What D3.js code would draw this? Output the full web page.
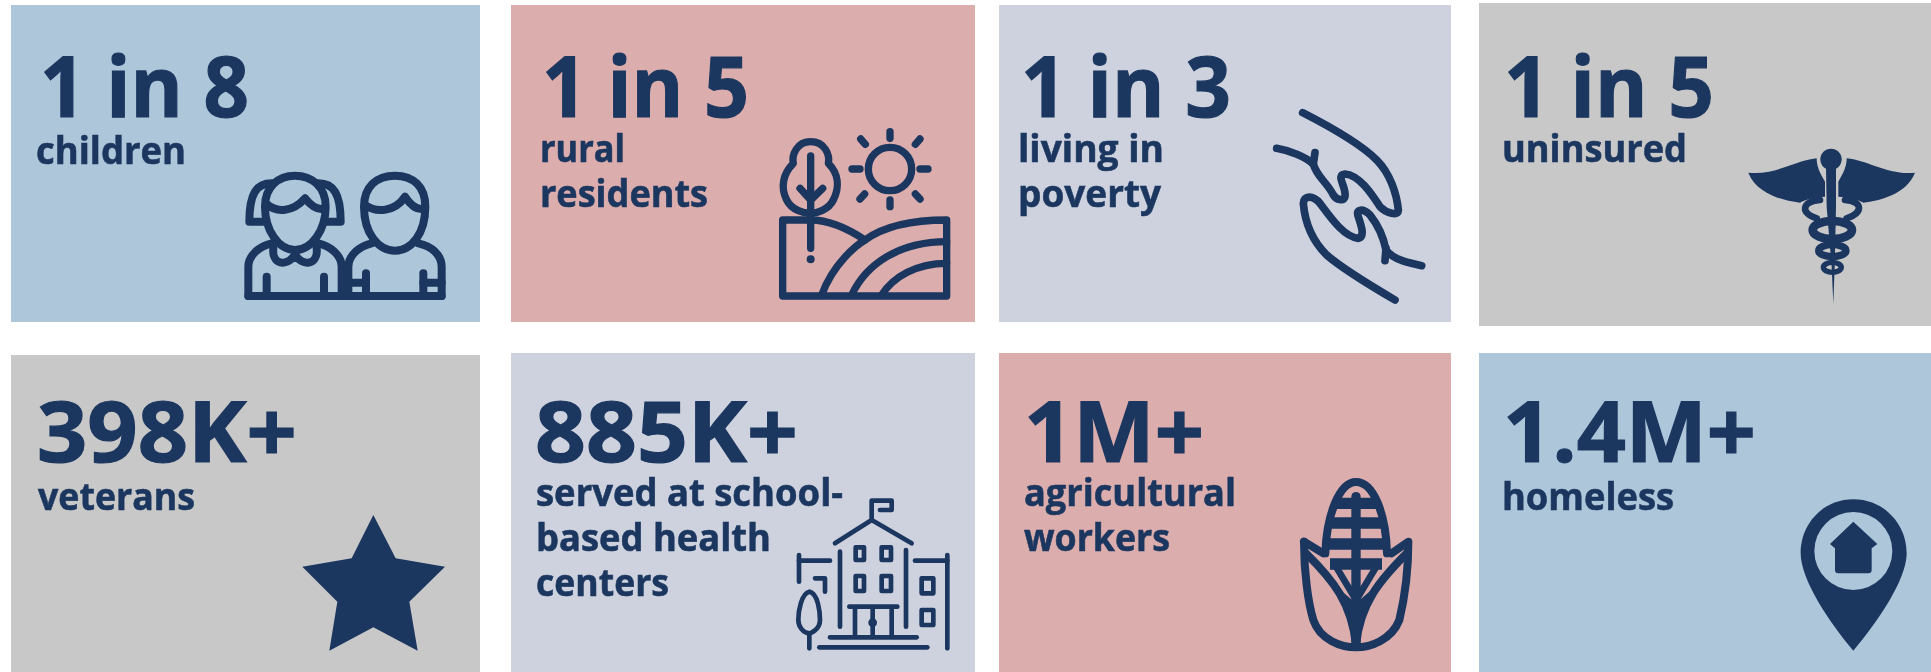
<!DOCTYPE html>
<html>
<head>
<meta charset="utf-8">
<style>
  html, body { margin: 0; padding: 0; background: #fff; overflow: hidden; }
  svg { display: block; filter: blur(0.5px); }
  text { font-family: "Open Sans", "Noto Sans", sans-serif; font-weight: 700; fill: #1b365f; stroke: #1b365f; }
  .line { fill: none; stroke: #1b365f; stroke-linecap: round; stroke-linejoin: round; }
  .solid { fill: #1b365f; stroke: none; fill-rule: evenodd; }
</style>
</head>
<body>
<svg id="chart"></svg>
<script src="https://cdn.jsdelivr.net/npm/d3@7"></script>
<script>
// card contents, left to right, top row first
var headlines = ["1 in 8", "1 in 5", "1 in 3", "1 in 5", "398K+", "885K+", "1M+", "1.4M+"];
var captions = [
  ["children"],
  ["rural", "residents"],
  ["living in", "poverty"],
  ["uninsured"],
  ["veterans"],
  ["served at school-", "based health", "centers"],
  ["agricultural", "workers"],
  ["homeless"]
];
var cardTones = ["blue", "pink", "slate", "grey", "grey", "slate", "pink", "blue"];
var iconNames = ["children", "rural", "hands", "caduceus", "star", "school", "corn", "pin"];

var width = 1931, height = 672;

// the four columns are not quite even in the source
var colX = d3.scaleOrdinal().domain([0, 1, 2, 3]).range([11, 511, 999, 1479]),
    colW = d3.scaleOrdinal().domain([0, 1, 2, 3]).range([469, 464, 452, 452]),
    tone = d3.scaleOrdinal()
      .domain(["blue", "pink", "slate", "grey"])
      .range(["#adc6da", "#dbadac", "#cdd2de", "#c8c8c8"]);

// card top / bottom, picked per card because the grey and last ones are offset
var cardTop = [5, 5, 5, 3, 355, 353, 353, 353],
    cardBottom = [322, 322, 322, 326, 672, 672, 672, 672];

// text placement: [x, baseline, width of the headline]
var headPos = [[40, 117, 209], [542, 117, 207], [1021, 117, 210], [1504, 117, 210],
               [37, 462, 260], [535, 462, 263], [1024, 462, 180], [1503, 462, 253]];
// caption lines: [x, baseline, width] per line
var capPos = [
  [[36, 164, 150]],
  [[540, 162, 85], [540, 207, 168]],
  [[1018, 162, 146], [1018, 207, 143]],
  [[1502, 162, 185]],
  [[38, 510, 157]],
  [[536, 506, 307], [536, 551, 235], [536, 596, 133]],
  [[1024, 506, 212], [1024, 551, 146]],
  [[1502, 510, 172]]
];

var iconOrigin = {
  children: [0, 0], rural: [500, 0], hands: [980, 0], caduceus: [1450, 0],
  star: [0, 340], school: [500, 340], corn: [980, 340], pin: [1450, 340]
};

var icons = {
  children: function(g) {
    stroke(g, 24, [
      // girl
      "M795,620C795,560 835,527 885,527C935,527 977,560 977,620C977,690 935,750 885,750C835,750 795,690 795,620Z",
      "M800,612C830,640 880,635 915,595C935,620 955,632 975,625",
      "M815,550C770,550 748,580 748,665L790,665",
      "M955,550C1000,550 1022,580 1022,665L980,665",
      "M745,888V800C745,765 780,738 815,730",
      "M955,730C990,738 1025,765 1025,800V888",
      "M820,745C815,790 855,805 885,765C915,805 955,790 950,745",
      "M800,830V880","M972,830V880",
      // boy
      "M1092,620C1092,560 1130,527 1185,527C1240,527 1276,560 1276,620C1276,700 1235,752 1185,752C1135,752 1092,700 1092,620Z",
      "M1095,615C1130,640 1185,635 1215,590C1235,620 1255,632 1275,625",
      "M1045,888V800C1045,765 1080,738 1115,730",
      "M1255,730C1295,738 1325,765 1325,800V888",
      "M1098,820V880","M1270,820V880",
      "M1048,848H1098","M1270,848H1325",
      "M745,888H1325"
    ]);
  },
  rural: function(g) {
    stroke(g, 22, [
      "M932,425C975,425 990,465 985,490C1015,520 1020,560 1000,600C985,630 950,640 932,640C910,640 875,630 860,600C840,560 850,520 880,490C875,465 890,425 932,425Z",
      "M932,468V745","M900,565L932,600L968,565",
      "M848,660V888H1340V660C1230,660 1150,680 1095,720C1050,690 990,660 932,660H848",
      "M965,885C1000,790 1070,735 1095,720",
      "M1055,885C1100,790 1200,725 1340,725",
      "M1145,885C1180,830 1250,790 1340,790",
      "M1170,395V415","M1170,600V620","M1056,507H1080","M1260,507H1284",
      "M1082,417L1096,433","M1260,417L1246,433","M1080,597L1094,582","M1260,597L1246,582"
    ]);
    circle(g, 1170, 507, 65, 22);
    g.append("circle").attr("class", "solid").attr("cx", 932).attr("cy", 778).attr("r", 12);
  },
  hands: function(g) {
    stroke(g, 23, [
      "M890,445C930,452 975,470 1000,492C1010,530 1040,545 1060,585C1070,600 1090,605 1095,590C1100,560 1065,525 1095,522C1140,525 1180,590 1200,620C1220,640 1255,650 1255,630C1250,580 1230,520 1190,480C1140,430 1060,385 968,338",
      "M1005,458L1000,492",
      "M1245,900C1160,850 1080,800 1040,765C1000,725 975,670 970,610C970,585 1000,585 1020,610C1050,650 1090,710 1135,715C1155,710 1145,680 1135,650C1125,625 1150,625 1170,645C1190,670 1210,710 1218,750C1240,780 1290,790 1325,797",
      "M1218,745L1215,782"
    ]);
  },
  caduceus: function(g) {
    solid(g, [
      "M1128,500L1158,500L1158,620L1154,800L1150,912L1145,800L1130,620Z",
      "M895,518C970,528 1040,480 1100,475C1100,500 1110,520 1125,545L1125,590C1100,590 1060,600 1050,608C1000,602 920,582 895,518Z",
      "M1395,518C1320,528 1250,480 1190,475C1190,500 1180,520 1165,545L1165,590C1190,590 1230,600 1240,608C1290,602 1370,582 1395,518Z"
    ]);
    g.append("circle").attr("class", "solid").attr("cx", 1143).attr("cy", 478).attr("r", 32);
    stroke(g, 20, ["M1110,600C1055,603 1050,640 1100,655", "M1185,600C1240,603 1240,640 1190,655"]);
    ellipse(g, 1147, 690, 59, 27, 26);
    ellipse(g, 1147, 752, 41, 18, 22);
    ellipse(g, 1147, 802, 27, 15, 16);
  },
  star: function(g) {
    solid(g, ["M1120,525L1187,655L1335,680L1228,785L1253,932L1120,862L988,932L1012,785L907,680L1055,655Z"]);
  },
  school: function(g) {
    stroke(g, 14, [
      "M1115,535V482H1175V510H1140",
      "M1005,610L1115,540L1235,610",
      "M1020,635V860","M1218,630V860",
      "M1048,800H1192","M1065,805V885","M1118,805V885","M1175,805V885",
      "M990,892H1250","M958,922H1282",
      "M897,645V725","M897,662H990","M945,715H975V755",
      "M928,755C955,760 960,820 960,840C960,870 930,880 928,880C910,880 895,860 895,840C895,810 905,760 928,755Z",
      "M928,880V925",
      "M1245,662H1342","M1342,645V925"
    ]);
    [[1067, 622, 25, 38], [1145, 622, 28, 38], [1067, 708, 25, 45], [1145, 708, 28, 45],
     [1265, 715, 35, 45], [1265, 810, 35, 45]].forEach(function(r) {
      g.append("rect").attr("class", "line").attr("stroke-width", 14)
        .attr("x", r[0]).attr("y", r[1]).attr("width", r[2]).attr("height", r[3]);
    });
    g.append("circle").attr("class", "solid").attr("cx", 1118).attr("cy", 848).attr("r", 13);
  },
  corn: function(g) {
    stroke(g, 24, [
      "M972,605C972,700 985,790 1000,840C1020,900 1085,922 1128,922C1170,922 1235,900 1258,840C1270,790 1285,700 1285,605L1235,640",
      "M972,605L1030,640",
      "M1036,640C1040,520 1080,426 1128,426C1180,426 1218,520 1221,640",
      "M978,640C1060,720 1115,790 1128,915",
      "M1280,640C1200,720 1140,790 1128,915"
    ]);
    stroke(g, 28, ["M1128,470V915"]);
    // rows of kernels, square ends so they stay inside the cob
    stroke(g, 34, ["M1068,490H1188","M1050,549H1208","M1040,612H1218","M1050,672H1206"])
      .style("stroke-linecap", "butt");
    stroke(g, 20, ["M1062,670L1125,775","M1195,670L1132,775"]);
    solid(g, ["M1128,925C1118,850 1100,790 1075,745L1128,790L1180,745C1158,790 1138,850 1128,925Z"]);
  },
  pin: function(g) {
    solid(g, [
      "M1210,478C1300,478 1370,550 1370,640C1370,720 1280,850 1210,932C1140,850 1052,720 1052,640C1052,550 1120,478 1210,478Z" +
      "M1210,516A117,117 0 1,0 1210,750A117,117 0 1,0 1210,516Z",
      "M1210,545L1282,612L1265,625V690Q1265,700 1255,700H1165Q1155,700 1155,690V625L1140,612Z"
    ]);
  }
};

function stroke(g, w, paths) {
  return g.selectAll(null).data(paths).enter().append("path")
    .attr("class", "line")
    .attr("stroke-width", w)
    .attr("d", function(d) { return d; });
}
function solid(g, paths) {
  return g.selectAll(null).data(paths).enter().append("path")
    .attr("class", "solid")
    .attr("d", function(d) { return d; });
}
function circle(g, cx, cy, r, w) {
  g.append("circle").attr("class", "line").attr("stroke-width", w)
    .attr("cx", cx).attr("cy", cy).attr("r", r);
}
function ellipse(g, cx, cy, rx, ry, w) {
  g.append("ellipse").attr("class", "line").attr("stroke-width", w)
    .attr("cx", cx).attr("cy", cy).attr("rx", rx).attr("ry", ry);
}

var svg = d3.select("#chart").attr("width", width).attr("height", height);

var card = svg.selectAll(".card")
  .data(headlines)
  .enter().append("g")
    .attr("class", "card");

// background blocks
card.append("rect")
    .attr("x", function(d, i) { return colX(i % 4); })
    .attr("y", function(d, i) { return cardTop[i]; })
    .attr("width", function(d, i) { return colW(i % 4); })
    .attr("height", function(d, i) { return cardBottom[i] - cardTop[i]; })
    .style("fill", function(d, i) { return tone(cardTones[i]); });

// big number
card.append("text")
    .attr("x", function(d, i) { return headPos[i][0]; })
    .attr("y", function(d, i) { return headPos[i][1]; })
    .attr("textLength", function(d, i) { return headPos[i][2]; })
    .attr("lengthAdjust", "spacingAndGlyphs")
    .style("font-size", "84px")
    .style("stroke-width", "1.2px")
    .text(function(d) { return d; });

// caption lines
card.each(function(d, i) {
  d3.select(this).selectAll(".cap")
    .data(captions[i])
    .enter().append("text")
      .attr("class", "cap")
      .attr("x", function(l, j) { return capPos[i][j][0]; })
      .attr("y", function(l, j) { return capPos[i][j][1]; })
      .attr("textLength", function(l, j) { return capPos[i][j][2]; })
      .attr("lengthAdjust", "spacingAndGlyphs")
      .style("font-size", "38px")
      .style("stroke-width", "0.6px")
      .text(function(l) { return l; });
});

// icons
card.each(function(d, i) {
  var name = iconNames[i],
      o = iconOrigin[name];
  var g = d3.select(this).append("g")
      .attr("class", "icon")
      .attr("transform", "translate(" + o[0] + "," + o[1] + ") scale(" + (1 / 3) + ")");
  icons[name](g);
});
</script>
</body>
</html>
